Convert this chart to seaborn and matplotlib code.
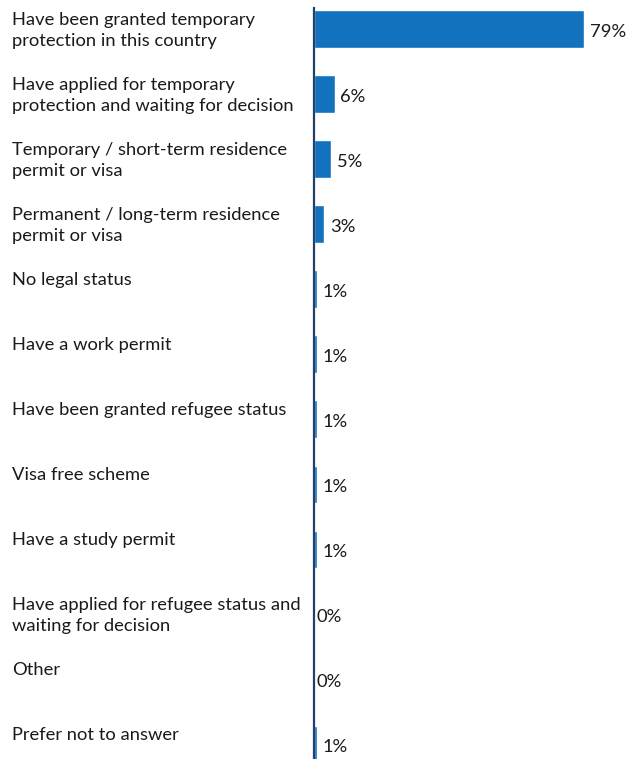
import matplotlib
matplotlib.use("Agg")
import matplotlib.pyplot as plt
import matplotlib.transforms as mtransforms
import seaborn as sns
import pandas as pd

categories = [
    "Have been granted temporary\nprotection in this country",
    "Have applied for temporary\nprotection and waiting for decision",
    "Temporary / short-term residence\npermit or visa",
    "Permanent / long-term residence\npermit or visa",
    "No legal status",
    "Have a work permit",
    "Have been granted refugee status",
    "Visa free scheme",
    "Have a study permit",
    "Have applied for refugee status and\nwaiting for decision",
    "Other",
    "Prefer not to answer",
]
values = [79, 6, 5, 3, 1, 1, 1, 1, 1, 0, 0, 1]

BAR_COLOR = "#1272BE"
AXIS_COLOR = "#22406A"
TEXT_COLOR = "#1a1a1a"

sns.set_theme(style="white")
plt.rcParams["font.family"] = ["Lato", "DejaVu Sans"]

df = pd.DataFrame({"status": categories, "share": values})

W, H = 628, 759
fig = plt.figure(figsize=(W / 100, H / 100), dpi=100)
ax = fig.add_axes([314 / W, 0, 1 - 314 / W, (759 - 8) / H])

BAR_W = 0.57
sns.barplot(data=df, y="status", x="share", orient="h", color=BAR_COLOR,
            saturation=1, width=BAR_W, ax=ax)

ax.set_xlim(0, 91.8)
ax.set_ylim(11.23, -0.323)
ax.set_xlabel("")
ax.set_ylabel("")
ax.set_xticks([])
ax.set_yticks([])
for side in ["top", "right", "bottom"]:
    ax.spines[side].set_visible(False)
ax.spines["left"].set_color(AXIS_COLOR)
ax.spines["left"].set_linewidth(1.6)

FS = 13.2

# category labels, left-aligned in the figure margin, top-aligned with each bar
trans = mtransforms.blended_transform_factory(fig.transFigure, ax.transData)
for i, label in enumerate(categories):
    ax.text(12 / W, i - BAR_W / 2 + 0.03, label, transform=trans,
            ha="left", va="top", fontsize=FS, color=TEXT_COLOR,
            linespacing=1.36, clip_on=False)

# value labels just past the end of each bar
for i, v in enumerate(values):
    ax.annotate(f"{v}%", xy=(v, i), xytext=(4 if v > 0 else 2, -5.6),
                textcoords="offset points", ha="left", va="baseline",
                fontsize=FS, color=TEXT_COLOR)

fig.savefig("out.png", dpi=100)
